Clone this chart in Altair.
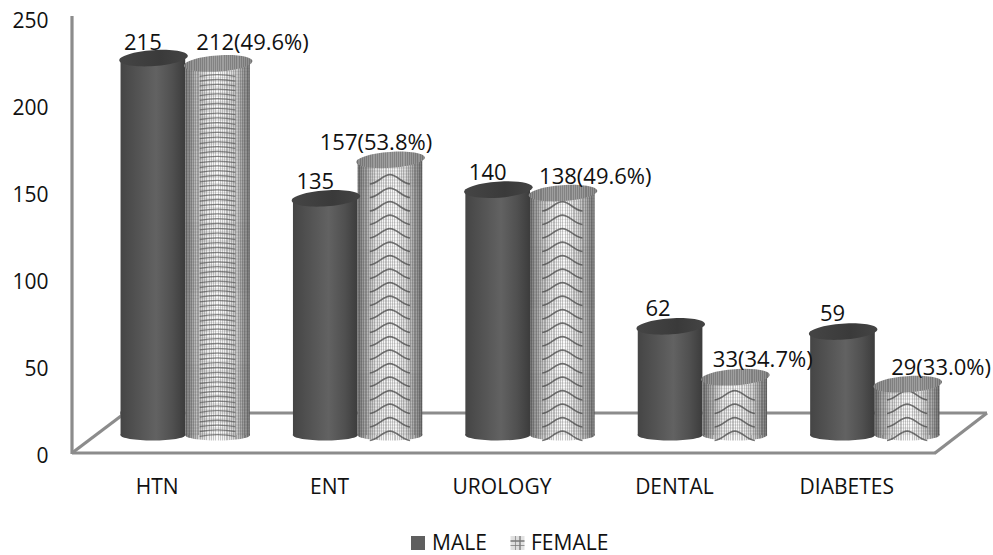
import altair as alt
import numpy as np
import pandas as pd

# Patient counts per department
categories = ["HTN", "ENT", "UROLOGY", "DENTAL", "DIABETES"]
male_counts = [215, 135, 140, 62, 59]
female_counts = [212, 157, 138, 33, 29]
male_labels = ["215", "135", "140", "62", "59"]
female_labels = ["212(49.6%)", "157(53.8%)", "138(49.6%)", "33(34.7%)", "29(33.0%)"]
y_ticks = [0, 50, 100, 150, 200, 250]

FONT = "Open Sans"
FONT_SIZE = 21
VALUE_FONT_SIZE = 22
TEXT = "#111111"
WALL = "#8c8c8c"
LEFT, TOP, W, H = 99, 15, 862, 438
PX_PER_UNIT = 1.753
BAR_W = 65


def px(x):
    return x - LEFT


def py(y):
    return y - TOP


def hex_gray(v):
    v = int(np.clip(v, 0, 255))
    return f"#{v:02x}{v:02x}{v:02x}"


def stops(pairs):
    return [alt.GradientStop(offset=float(o), color=c) for o, c in pairs]


def cylinder_shading(edge=115, centre=250, period=2.2, dark=0.8):
    # Light cylinder body with fine vertical hatching
    n = int(BAR_W / period)
    pairs = []
    for i in range(n):
        for j in range(2):
            a = i / n + j / (2 * n)
            b = a + 1 / (2 * n)
            t = (a + b) / 2
            shade = edge + (centre - edge) * np.sin(np.pi * t) ** 0.9
            if j == 1:
                shade *= dark
            pairs += [(a, hex_gray(shade)), (b, hex_gray(shade))]
    return alt.LinearGradient(gradient="linear", x1=0, x2=1, y1=0, y2=0, stops=stops(pairs))


def row_hatch(height, period=3.0, alpha=0.1):
    # Faint horizontal hatching over a body of the given pixel height
    n = max(int(height / period), 2)
    pairs = []
    for i in range(n):
        for j, c in enumerate(["rgba(60,60,60,0)", f"rgba(60,60,60,{alpha})"]):
            a = i / n + j / (2 * n)
            pairs += [(a, c), (a + 1 / (2 * n), c)]
    return alt.LinearGradient(gradient="linear", x1=0, x2=0, y1=0, y2=1, stops=stops(pairs))


male_fill = alt.LinearGradient(
    gradient="linear", x1=0, x2=1, y1=0, y2=0,
    stops=stops([(0, "#454545"), (0.55, "#626262"), (0.8, "#505050"), (1, "#3c3c3c")]),
)
male_cap = alt.LinearGradient(
    gradient="linear", x1=0, x2=1, y1=0, y2=0,
    stops=stops([(0, "#454545"), (0.6, "#3a3a3a"), (1, "#444444")]),
)
female_fill = cylinder_shading()
female_cap = cylinder_shading(edge=140, centre=160, period=2.0, dark=0.82)

frame = pd.DataFrame(
    {
        "category": categories * 2,
        "series": ["MALE"] * 5 + ["FEMALE"] * 5,
        "count": male_counts + female_counts,
        "base": [0] * 10,
    }
)
male = frame[frame.series == "MALE"]
female = frame[frame.series == "FEMALE"]

x_enc = alt.X(
    "category:N",
    sort=categories,
    scale=alt.Scale(domain=categories, paddingInner=0.25, paddingOuter=0.125),
    axis=alt.Axis(
        title=None, labelAngle=0, domain=False, ticks=False, labelOffset=-28,
        labelPadding=23, labelFont=FONT, labelFontSize=FONT_SIZE, labelColor=TEXT,
        labelFontWeight="normal",
    ),
)
x_off = alt.XOffset(
    "series:N",
    sort=["MALE", "FEMALE"],
    scale=alt.Scale(domain=["MALE", "FEMALE"], paddingInner=0, paddingOuter=0),
)
# The cylinders stand on the floor, a little above the front edge of the axis
y_scale = alt.Scale(domain=[-10.27, 239.6], nice=False, zero=False)
y_enc = alt.Y("count:Q", scale=y_scale, axis=None)

TOP_ELLIPSE = "M-0.98,0 A1,0.235 -4 1 1 1.02,0 A1,0.235 -4 1 1 -0.98,0 Z"
BASE_ELLIPSE = "M-1,0 A1,0.17 0 1 1 1,0 A1,0.17 0 1 1 -1,0 Z"


def ellipse(data, field, fill, shape, width):
    return (
        alt.Chart(data)
        .mark_point(filled=True, shape=shape, size=width ** 2, fill=fill, opacity=1, strokeWidth=0)
        .encode(x=x_enc, xOffset=x_off, y=alt.Y(f"{field}:Q", scale=y_scale, axis=None))
    )


def body(data, fill):
    return (
        alt.Chart(data)
        .mark_bar(fill=fill, opacity=1)
        .encode(x=x_enc, xOffset=x_off, y=y_enc, y2=alt.Y2("base:Q"))
    )


def frame_line(x1, y1, x2, y2):
    return alt.Chart().mark_rule(color=WALL, size=3.2).encode(
        x=alt.value(px(x1)), x2=alt.value(px(x2)), y=alt.value(py(y1)), y2=alt.value(py(y2))
    )


# Left wall and floor outline
frame_lines = [
    frame_line(72, 16, 72, 454),
    frame_line(72, 453, 936, 453),
    frame_line(72, 453, 125, 413),
    frame_line(120, 413, 987, 413),
    frame_line(987, 413, 935, 453),
]

# Value axis, carried by an invisible layer with its own scale
axis_layer = (
    alt.Chart(pd.DataFrame({"tick": y_ticks}))
    .mark_point(opacity=0)
    .encode(
        y=alt.Y(
            "tick:Q",
            scale=alt.Scale(domain=[0, 251.7], nice=False),
            axis=alt.Axis(
                orient="left", title=None, values=y_ticks, grid=False, domain=False, ticks=False,
                labelPadding=51, labelOffset=3.5, labelFont=FONT, labelFontSize=FONT_SIZE,
                labelColor=TEXT,
            ),
        )
    )
)

# Arched banding on the patterned cylinders
FLAT_ARC = "M-0.55,0.04 Q0,-0.06 0.55,0.04"
ARCH = "M-0.62,0.17 C-0.36,0.15 -0.22,-0.12 0,-0.12 C0.22,-0.12 0.36,0.15 0.62,0.17"
band_layers = []
for cat, value in zip(categories, female_counts):
    flat = cat == "HTN"
    step = (4.8 if flat else 13.5) / PX_PER_UNIT
    marks = np.arange(0, value - 4, step)
    bands = pd.DataFrame({"category": cat, "series": "FEMALE", "band": marks})
    band_layers.append(
        alt.Chart(bands)
        .mark_point(
            filled=False, shape=FLAT_ARC if flat else ARCH, size=BAR_W ** 2,
            stroke="#4a4a4a", strokeWidth=1.3 if flat else 1.6, opacity=0.6 if flat else 0.75,
        )
        .encode(x=x_enc, xOffset=x_off, y=alt.Y("band:Q", scale=y_scale, axis=None))
    )

hatch_layers = [
    body(female[female.category == cat], row_hatch(v * PX_PER_UNIT))
    for cat, v in zip(categories, female_counts)
]

# Hand-placed value labels: (dx, dy) from the top of each cylinder
male_nudges = [(-10, -15.5), (-10, -16.5), (-10, -17), (-12, -17.5), (-10, -18)]
female_nudges = [(35, -20), (-14, -16.5), (33, -16.5), (28, -17.5), (34, -16.5)]


def value_labels(data, labels, nudges):
    out = []
    for (_, row), text, (dx, dy) in zip(data.iterrows(), labels, nudges):
        one = pd.DataFrame([{**row.to_dict(), "label": text}])
        out.append(
            alt.Chart(one)
            .mark_text(font=FONT, fontSize=VALUE_FONT_SIZE, color=TEXT, dx=dx, dy=dy, baseline="middle")
            .encode(x=x_enc, xOffset=x_off, y=y_enc, text="label:N")
        )
    return out


# Legend
def swatch(x, fill):
    return alt.Chart().mark_point(
        filled=True, shape="square", size=14 ** 2, fill=fill, opacity=1, strokeWidth=0
    ).encode(x=alt.value(px(x)), y=alt.value(py(543)))


def legend_text(x, text):
    return alt.Chart().mark_text(
        text=text, font=FONT, fontSize=FONT_SIZE, color=TEXT, align="left", baseline="middle"
    ).encode(x=alt.value(px(x)), y=alt.value(py(544)))


grid_cols = alt.LinearGradient(
    gradient="linear", x1=0, x2=1, y1=0, y2=0,
    stops=stops([(0, "#e2e2e2"), (0.3, "#dddddd"), (0.3, "#9a9a9a"), (0.42, "#9a9a9a"), (0.42, "#dddddd"),
                 (0.62, "#dddddd"), (0.62, "#9a9a9a"), (0.74, "#9a9a9a"), (0.74, "#e2e2e2"), (1, "#e2e2e2")]),
)
grid_rows = alt.LinearGradient(
    gradient="linear", x1=0, x2=0, y1=0, y2=1,
    stops=stops([(0, "rgba(120,120,120,0)"), (0.32, "rgba(120,120,120,0)"), (0.32, "rgba(120,120,120,0.75)"),
                 (0.44, "rgba(120,120,120,0.75)"), (0.44, "rgba(120,120,120,0)"), (0.62, "rgba(120,120,120,0)"),
                 (0.62, "rgba(120,120,120,0.75)"), (0.74, "rgba(120,120,120,0.75)"),
                 (0.74, "rgba(120,120,120,0)"), (1, "rgba(120,120,120,0)")]),
)
legend = [
    swatch(418, "#5f5f5f"),
    legend_text(432, "MALE"),
    swatch(517.5, grid_cols),
    swatch(517.5, grid_rows),
    legend_text(531, "FEMALE"),
]

layers = (
    [axis_layer]
    + frame_lines
    + [ellipse(male, "base", male_fill, BASE_ELLIPSE, BAR_W), body(male, male_fill)]
    + [ellipse(female, "base", female_fill, BASE_ELLIPSE, BAR_W), body(female, female_fill)]
    + hatch_layers
    + band_layers
    + [ellipse(female, "count", female_cap, TOP_ELLIPSE, 66), ellipse(male, "count", male_cap, TOP_ELLIPSE, 66)]
    + value_labels(male, male_labels, male_nudges)
    + value_labels(female, female_labels, female_nudges)
    + legend
)

chart = (
    alt.layer(*layers)
    .resolve_scale(y="independent")
    .properties(
        width=W,
        height=H,
        autosize=alt.AutoSizeParams(type="none"),
        padding={"left": LEFT, "top": TOP, "right": 993 - LEFT - W, "bottom": 555 - TOP - H},
        background="#ffffff",
    )
    .configure_view(stroke=None)
)

chart.save("out.html", embed_options={"renderer": "svg", "actions": False})
